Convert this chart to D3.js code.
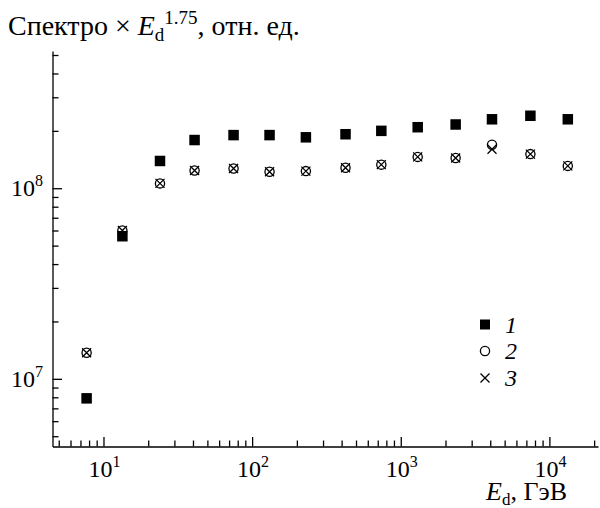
<!DOCTYPE html>
<html>
<head>
<meta charset="utf-8">
<script src="https://cdn.jsdelivr.net/npm/d3@7"></script>
<style>
  body { margin: 0; background: #fff; }
</style>
</head>
<body>
<svg id="chart" width="600" height="508"></svg>
<script>
// energies, GeV
const energy = [7.7, 13.4, 24, 41, 75, 131, 230, 425, 740, 1300, 2340, 4110, 7450, 13300];
// spectrum x E^1.75, arb. units
const series1 = [7.9e6, 5.6e7, 1.39e8, 1.79e8, 1.9e8, 1.9e8, 1.85e8, 1.92e8, 2.0e8, 2.09e8, 2.16e8, 2.3e8, 2.4e8, 2.3e8];
const series2 = [1.37e7, 6.0e7, 1.06e8, 1.24e8, 1.27e8, 1.22e8, 1.23e8, 1.28e8, 1.33e8, 1.46e8, 1.44e8, 1.69e8, 1.51e8, 1.31e8];
const series3 = [1.37e7, 6.0e7, 1.06e8, 1.24e8, 1.27e8, 1.22e8, 1.23e8, 1.28e8, 1.33e8, 1.46e8, 1.44e8, 1.60e8, 1.51e8, 1.31e8];
const legendLabels = ["1", "2", "3"];
const xMajor = [1e1, 1e2, 1e3, 1e4];
const yMajor = [1e7, 1e8];

const svg = d3.select('#chart');

const plotLeft = 52.5, plotRight = 598, plotTop = 51, plotBottom = 446.5;

const xScale = d3.scaleLog()
  .domain([Math.pow(10, 0.657), Math.pow(10, 4.327)])
  .range([plotLeft, plotRight]);

const yScale = d3.scaleLog()
  .domain([Math.pow(10, 6.645), Math.pow(10, 8.72)])
  .range([plotBottom, plotTop]);

const isMajor = v => Math.abs(Math.log10(v) - Math.round(Math.log10(v))) < 1e-9;

function addText(x, y, size) {
  return svg.append('text')
    .attr('x', x).attr('y', y)
    .attr('style', `font-family:'Liberation Serif';font-size:${size}px;fill:#000`);
}
function addSpan(t, text, size, extra) {
  return t.append('tspan')
    .attr('style', `font-family:'Liberation Serif';font-size:${size}px;${extra || ''}`)
    .text(text);
}

// x axis, ticks pointing inward
const xAxis = svg.append('g')
  .attr('transform', `translate(0, ${plotBottom})`)
  .call(d3.axisBottom(xScale).tickSize(-6).tickSizeOuter(0).tickFormat(''));
xAxis.selectAll('.tick line').attr('y2', d => isMajor(d) ? -9.5 : -6);

// y axis
const yAxis = svg.append('g')
  .attr('transform', `translate(${plotLeft}, 0)`)
  .call(d3.axisLeft(yScale).tickSize(-6).tickSizeOuter(0).tickFormat(''));
yAxis.selectAll('.tick line').attr('x2', d => isMajor(d) ? 9.5 : 6);

svg.selectAll('.domain, .tick line').attr('stroke', '#000').attr('stroke-width', 1.3);

// tick labels 10^n
xMajor.forEach(v => {
  const t = addText(xScale(v) - 15, plotBottom + 30, 24);
  addSpan(t, '10', 24);
  addSpan(t, Math.round(Math.log10(v)), 16).attr('dy', -10);
});

yMajor.forEach(v => {
  const t = addText(43, yScale(v) + 8, 24).attr('text-anchor', 'end');
  addSpan(t, '10', 24);
  addSpan(t, Math.round(Math.log10(v)), 16).attr('dy', -10);
});

// y title
const title = addText(8, 35, 28);
addSpan(title, 'Спектро × ', 28);
addSpan(title, 'E', 28, 'font-style:italic');
addSpan(title, 'd', 19).attr('dy', 6);
addSpan(title, '1.75', 19).attr('dy', -17);
addSpan(title, ', отн. ед.', 28).attr('dy', 11);

// x title
const xt = addText(567, 500, 26).attr('text-anchor', 'end');
addSpan(xt, 'E', 26, 'font-style:italic');
addSpan(xt, 'd', 17).attr('dy', 5);
addSpan(xt, ', ГэВ', 26).attr('dy', -5);

// markers
const sq = 10.5;
function drawCircle(g, cx, cy) {
  g.append('circle').attr('cx', cx).attr('cy', cy).attr('r', 4.6)
    .attr('fill', 'none').attr('stroke', '#000').attr('stroke-width', 1.3);
}
function drawCross(g, cx, cy) {
  const h = 4.5;
  g.append('path')
    .attr('d', `M${cx - h},${cy - h}L${cx + h},${cy + h}M${cx - h},${cy + h}L${cx + h},${cy - h}`)
    .attr('stroke', '#000').attr('stroke-width', 1.3).attr('fill', 'none');
}

const marks = svg.append('g');
energy.forEach((e, i) => {
  marks.append('rect')
    .attr('x', xScale(e) - sq / 2)
    .attr('y', yScale(series1[i]) - sq / 2)
    .attr('width', sq).attr('height', sq)
    .attr('fill', '#000');
});
energy.forEach((e, i) => drawCircle(marks, xScale(e), yScale(series2[i])));
energy.forEach((e, i) => drawCross(marks, xScale(e), yScale(series3[i])));

// legend
const lx = 485, ly = [324.5, 351, 378];
const legend = svg.append('g');
legend.append('rect').attr('x', lx - 5).attr('y', ly[0] - 5).attr('width', 10).attr('height', 10).attr('fill', '#000');
drawCircle(legend, lx, ly[1]);
drawCross(legend, lx, ly[2]);
legendLabels.forEach((s, i) => {
  const t = addText(505, ly[i] + 8, 24);
  addSpan(t, s, 24, 'font-style:italic');
});
</script>
</body>
</html>
